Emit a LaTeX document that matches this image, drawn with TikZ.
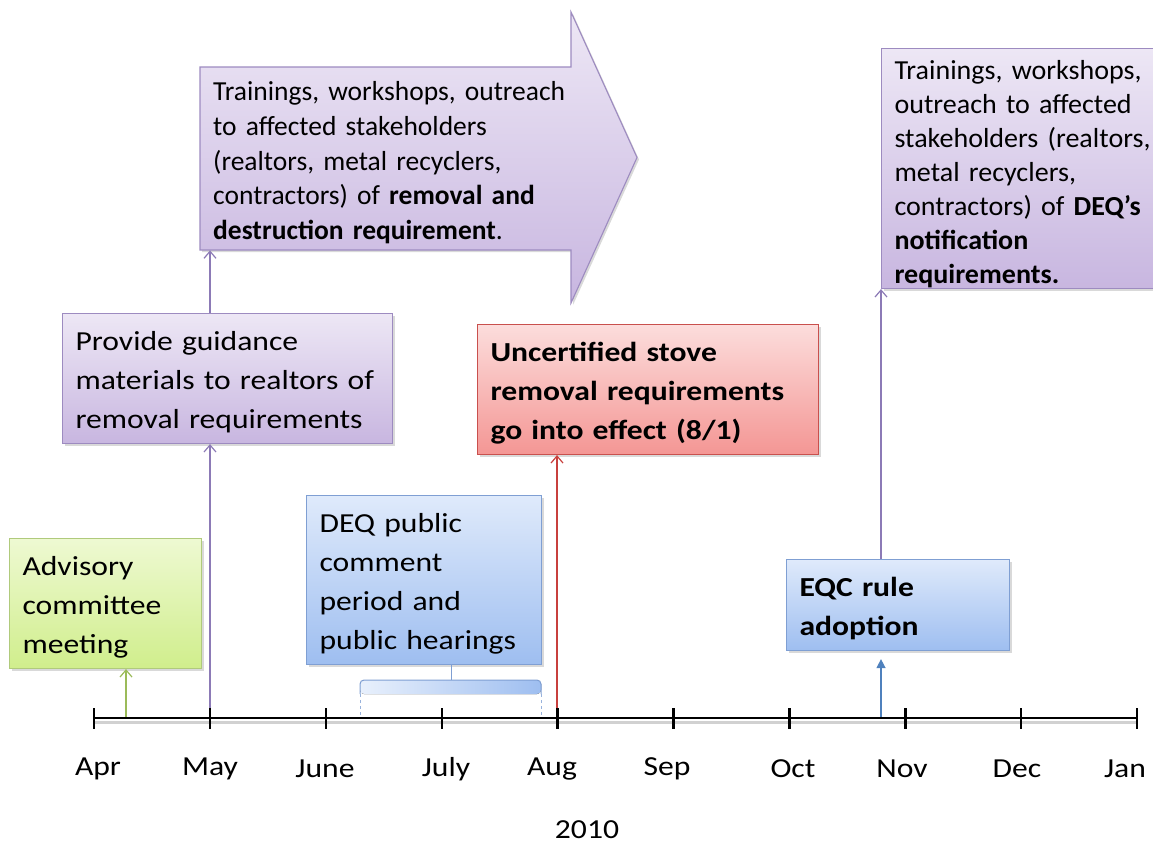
\documentclass[tikz,border=0pt]{standalone}
\usepackage{fontspec}
\setmainfont{Carlito}[FakeStretch=1.15]
\newfontfamily\plainfont{Carlito}[Ligatures=TeX]
\newfontfamily\semiwidefont{Carlito}[Ligatures=TeX,FakeStretch=1.02]
\usetikzlibrary{arrows.meta,positioning,calc,shadows}

\definecolor{grnTop}{HTML}{EEF9D2}
\definecolor{grnBot}{HTML}{D0EE8C}
\definecolor{grnEdge}{HTML}{B0CA7C}
\definecolor{grnLine}{HTML}{9BBB59}
\definecolor{purTop}{HTML}{EDE7F5}
\definecolor{purBot}{HTML}{C8B6E0}
\definecolor{purEdge}{HTML}{9D8BC0}
\definecolor{purLine}{HTML}{8C7AB6}
\definecolor{redTop}{HTML}{FCDDDC}
\definecolor{redBot}{HTML}{F49694}
\definecolor{redEdge}{HTML}{C9504D}
\definecolor{redLine}{HTML}{C8403D}
\definecolor{bluTop}{HTML}{DFEAFB}
\definecolor{bluBot}{HTML}{9EBEF0}
\definecolor{bluEdge}{HTML}{7F9FD3}
\definecolor{bluLine}{HTML}{4F81BD}

\newcommand{\boxfont}{\fontsize{27.5}{39}\selectfont}
\newcommand{\tightfont}{\fontsize{27.5}{34.6}\selectfont}

\begin{document}
\begin{tikzpicture}[x=1pt,y=-1pt,>={Straight Barb[length=7pt,width=12pt]},
    droptext/.style={execute at begin node={\rule{0pt}{#1}}},
    box/.style={draw,line width=1.1pt,anchor=north west,align=left,
      inner xsep=13pt,inner ysep=0pt,font=\boxfont,droptext=27pt,
      drop shadow={opacity=0.3,shadow xshift=2pt,shadow yshift=-2pt}},
    greenbox/.style={box,draw=grnEdge,top color=grnTop,bottom color=grnBot},
    purplebox/.style={box,draw=purEdge,top color=purTop,bottom color=purBot},
    redbox/.style={box,draw=redEdge,top color=redTop,bottom color=redBot},
    bluebox/.style={box,draw=bluEdge,top color=bluTop,bottom color=bluBot},
    link/.style={->,line width=1.2pt},
    month/.style={font=\boxfont}]
    \useasboundingbox (0,0) rectangle (1153,844);

    % big outreach arrow (removal and destruction)
    \draw[purEdge,line width=1.1pt,top color=purTop,bottom color=purBot,
      drop shadow={opacity=0.3,shadow xshift=2pt,shadow yshift=-2pt}]
      (200,67) -- (571,67) -- (571,12) -- (637,157.5) -- (571,303) -- (571,250) -- (200,250) -- cycle;
    \node[anchor=north west,inner sep=0pt,text width=365pt,minimum height=183pt,
      align=left,font=\plainfont\tightfont,droptext=27pt] (trainA) at (213,67)
      {Trainings, workshops, outreach\\to affected stakeholders\\(realtors, metal recyclers,\\contractors) of \textbf{removal and}\\\textbf{destruction requirement}.};

    % event boxes
    \node[greenbox,text width=166pt,minimum height=130pt] (adv) at (9,538)
      {Advisory\\committee\\meeting};
    \node[purplebox,text width=304pt,minimum height=130pt] (guide) at (62,313)
      {Provide guidance\\materials to realtors of\\removal requirements};
    \node[redbox,text width=315pt,minimum height=130pt] (stove) at (477,324)
      {\bfseries Uncertified stove\\\bfseries removal requirements\\\bfseries go into effect (8/1)};
    \node[bluebox,text width=209pt,minimum height=169pt] (deq) at (306,495)
      {DEQ public\\comment\\period and\\public hearings};
    \node[bluebox,text width=197pt,minimum height=91pt] (eqc) at (786,559)
      {\bfseries EQC rule\\\bfseries adoption};
    \node[purplebox,text width=272pt,minimum height=240pt,droptext=30pt,
      font=\semiwidefont\fontsize{27.5}{34}\selectfont] (trainB) at (881,48)
      {Trainings, workshops,\\outreach to affected\\stakeholders (realtors,\\metal recyclers,\\contractors) of \textbf{DEQ’s}\\\textbf{notification}\\\textbf{requirements.}};

    % comment period brace
    \fill[left color=bluTop!70,right color=bluBot,rounded corners=4pt]
      (360,694) -- (360,680) -- (541,680) -- (541,694) -- cycle;
    \draw[bluEdge,line width=1pt,rounded corners=4pt] (360,694) -- (360,680) -- (541,680) -- (541,694);
    \draw[bluEdge,line width=1pt] (deq.south -| 451,0) -- (451,680);
    \draw[bluEdge!80,line width=1pt,dashed] (360,694) -- (360,718);
    \draw[bluEdge!80,line width=1pt,dashed] (541,694) -- (541,718);

    % event points on the axis
    \coordinate (advT) at (126,718);
    \coordinate (mayT) at (210,718);
    \coordinate (augT) at (557,718);
    \coordinate (eqcT) at (881,718);

    % connectors
    \draw[link,grnLine] (advT) -- (advT |- adv.south);
    \draw[link,purLine] (mayT) -- (mayT |- guide.south);
    \draw[link,purLine] (mayT |- guide.north) -- (mayT |- trainA.south);
    \draw[link,redLine] (augT) -- (augT |- stove.south);
    \draw[-{Triangle[length=9pt,width=9pt]},line width=1.4pt,bluLine,shorten >=8pt] (eqcT) -- (eqcT |- eqc.south);
    \draw[link,purLine] (eqcT |- eqc.north) -- (eqcT |- trainB.south);

    % axis with month ticks
    \draw[line width=3pt,black!18] (94,722) -- (1137,722);
    \draw[line width=2.6pt] (94,718) -- (1137,718);
    \foreach \i in {0,...,9}
      \draw[line width=2.4pt] ({94+\i*115.9},708) -- ({94+\i*115.9},729);

    % month labels
    \foreach \m/\lx in {Apr/98,May/210,June/325,July/446,Aug/552,Sep/667,Oct/793,Nov/902,Dec/1017,Jan/1125}
      \node[month] (\m) at (\lx,769) {\m};
    \node[month] (year) at (587,830) {2010};
\end{tikzpicture}
\end{document}
